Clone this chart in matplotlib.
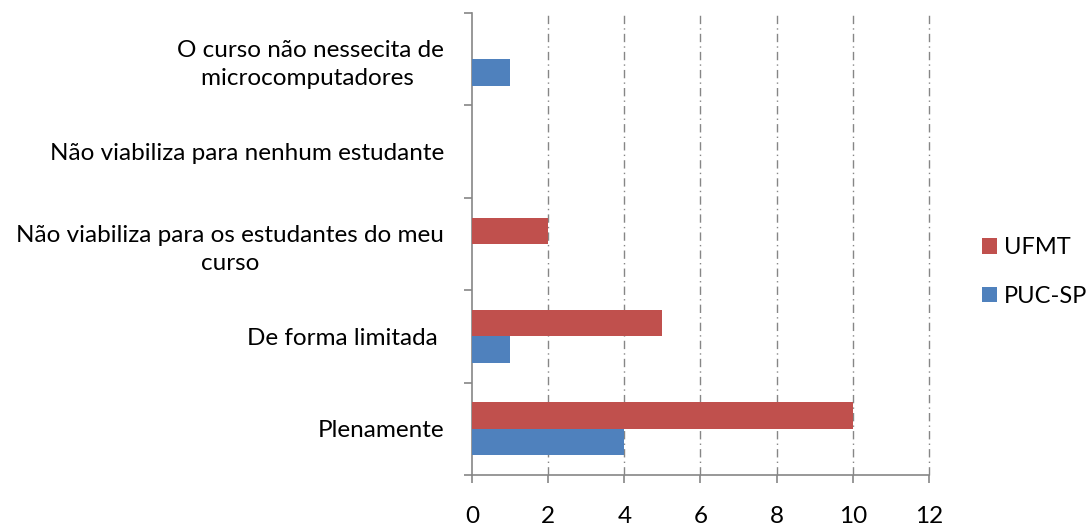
import matplotlib
matplotlib.use("Agg")
import matplotlib.pyplot as plt
import numpy as np
from matplotlib.patches import Patch

categories = ["Plenamente", "De forma limitada ",
              "Não viabiliza para os estudantes do meu\ncurso",
              "Não viabiliza para nenhum estudante",
              "O curso não nessecita de\nmicrocomputadores "]
ufmt = [10, 5, 2, 0, 0]
puc_sp = [4, 1, 0, 0, 1]
xticks = [0, 2, 4, 6, 8, 10, 12]

plt.rcParams['font.family'] = ['Lato', 'DejaVu Sans']
FS = 17.5

fig = plt.figure(figsize=(10.86, 5.26), dpi=100)
ax = fig.add_axes([0.4346, 0.097, 0.8554 - 0.4346, 0.9753 - 0.097])

red = "#C0504D"
blue = "#4F81BD"
y = np.arange(len(categories))
h = 0.285
ax.barh(y + h / 2, ufmt, height=h, color=red, zorder=3)
ax.barh(y - h / 2, puc_sp, height=h, color=blue, zorder=3)

ax.set_xlim(0, 12)
ax.set_ylim(-0.5, len(categories) - 0.5)
ax.set_xticks(xticks)
ax.set_xticklabels([str(v) for v in xticks], fontsize=FS)
ax.set_yticks(y)
ax.set_yticklabels(categories, fontsize=FS, multialignment='center', linespacing=1.4)
ax.set_yticks(np.arange(-0.5, len(categories), 1.0), minor=True)
ax.tick_params(axis='y', which='major', length=0, pad=20)
ax.tick_params(axis='y', which='minor', length=5.5, color='#868686', width=1.2)
ax.tick_params(axis='x', which='major', length=6, color='#868686', width=1.2, pad=16)

for s in ['top', 'right']:
    ax.spines[s].set_visible(False)
for s in ['left', 'bottom']:
    ax.spines[s].set_color('#868686')
    ax.spines[s].set_linewidth(1.2)

for xv in xticks[1:]:
    ax.axvline(xv, color='#868686', linestyle=(0, (6, 3, 1, 3)), linewidth=1.0,
               zorder=1, clip_on=False)

handles = [Patch(facecolor=red, label='UFMT'), Patch(facecolor=blue, label='PUC-SP')]
fig.legend(handles=handles, loc='center left', bbox_to_anchor=(0.885, 0.483),
           frameon=False, fontsize=17, handlelength=0.62, handleheight=0.62,
           handletextpad=0.3, labelspacing=1.15)

fig.savefig("out.png", dpi=100)
